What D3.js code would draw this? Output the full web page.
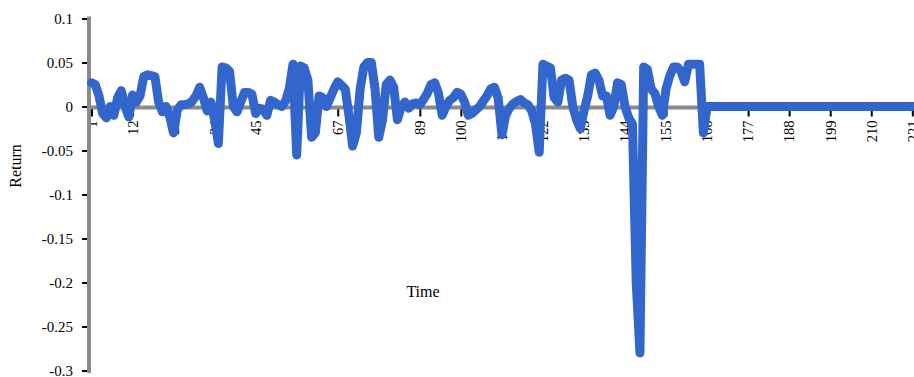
<!DOCTYPE html>
<html>
<head>
<meta charset="utf-8">
<script src="https://cdn.jsdelivr.net/npm/d3@7"></script>
<style>
  body { margin: 0; background: #fff; }
  svg { display: block; }
  svg text { font-family: 'Liberation Serif', 'DejaVu Serif', serif; fill: #000; }
</style>
</head>
<body>
<svg id="chart"></svg>
<script>
// return per time step (t = 1, 2, 3 ...)
const returns = [
  0.027, 0.025, 0.012, -0.008, -0.013, 0.0, -0.01, 0.01, 0.018, 0.0,
  -0.012, 0.013, 0.005, 0.012, 0.034, 0.036, 0.035, 0.034, 0.005, -0.006,
  0.0, -0.012, -0.03, -0.004, 0.002, 0.002, 0.003, 0.006, 0.012, 0.022,
  0.01, -0.005, 0.005, -0.015, -0.042, 0.045, 0.044, 0.04, 0.0, -0.006,
  0.005, 0.016, 0.016, 0.014, -0.008, -0.002, -0.003, -0.01, 0.007, 0.005,
  0.002, 0.0, 0.006, 0.02, 0.048, -0.055, 0.046, 0.044, 0.03, -0.035,
  -0.03, 0.012, 0.01, 0.0, 0.01, 0.02, 0.028, 0.024, 0.02, -0.01,
  -0.045, -0.03, 0.02, 0.045, 0.05, 0.05, 0.02, -0.035, -0.015, 0.025,
  0.03, 0.022, -0.015, 0.0, 0.005, -0.002, 0.003, 0.004, 0.002, 0.008,
  0.015, 0.025, 0.027, 0.015, -0.01, 0.0, 0.007, 0.01, 0.016, 0.014,
  0.005, -0.01, -0.008, -0.004, 0.0, 0.006, 0.012, 0.02, 0.022, 0.01,
  -0.032, -0.01, -0.002, 0.003, 0.006, 0.008, 0.004, 0.002, -0.005, -0.02,
  -0.052, 0.048, 0.046, 0.044, 0.01, 0.005, 0.03, 0.032, 0.03, 0.0,
  -0.015, -0.025, -0.005, 0.012, 0.036, 0.038, 0.03, 0.012, 0.012, -0.01,
  0.0, 0.027, 0.025, 0.0, -0.013, -0.02, -0.2, -0.28, 0.045, 0.042,
  0.02, 0.015, 0.0, -0.01, 0.02, 0.035, 0.045, 0.045, 0.04, 0.028,
  0.048, 0.048, 0.048, 0.048, -0.03, 0.0, 0.0, 0.0, 0.0, 0.0,
  0.0, 0.0, 0.0, 0.0, 0.0, 0.0, 0.0, 0.0, 0.0, 0.0,
  0.0, 0.0, 0.0, 0.0, 0.0, 0.0, 0.0, 0.0, 0.0, 0.0,
  0.0, 0.0, 0.0, 0.0, 0.0, 0.0, 0.0, 0.0, 0.0, 0.0,
  0.0, 0.0, 0.0, 0.0, 0.0, 0.0, 0.0, 0.0, 0.0, 0.0,
  0.0, 0.0, 0.0, 0.0, 0.0, 0.0, 0.0, 0.0, 0.0, 0.0,
  0.0, 0.0
];
const timeTicks = [1, 12, 23, 34, 45, 56, 67, 78, 89, 100, 111, 122, 133, 144, 155, 166, 177, 188, 199, 210, 221];
const returnTicks = [0.1, 0.05, 0, -0.05, -0.1, -0.15, -0.2, -0.25, -0.3];

const W = 914, H = 377;
const svg = d3.select('#chart').attr('width', W).attr('height', H);

const x = d3.scaleLinear().domain([1, 221]).range([91.5, 912.3]);
const y = d3.scaleLinear().domain([-0.3, 0.1]).range([370.5, 18.5]);
const axisX = 89;
const serif = "'Liberation Serif', 'DejaVu Serif', serif";

// y axis
const yAxis = d3.axisLeft(y).tickValues(returnTicks).tickSize(7).tickPadding(9)
    .tickFormat(d => String(+d.toFixed(2)));
const gy = svg.append('g').attr('transform', 'translate(' + axisX + ',0)').call(yAxis)
    .attr('font-family', serif).attr('font-size', 15);
gy.select('.domain').remove();
gy.selectAll('.tick line').attr('stroke', '#000').attr('stroke-width', 2);
gy.selectAll('.tick text').attr('fill', '#000').attr('dy', '0.33em');

// x axis (ticks sit below the zero line, labels turned)
const xAxis = d3.axisBottom(x).tickValues(timeTicks).tickSize(10).tickFormat(d => String(d));
const gx = svg.append('g').attr('transform', 'translate(0,' + y(0) + ')').call(xAxis)
    .attr('font-family', serif).attr('font-size', 14.5);
gx.select('.domain').remove();
gx.selectAll('.tick line').attr('stroke', '#000').attr('stroke-width', 2);
gx.selectAll('.tick text')
    .attr('transform', 'rotate(-90)')
    .attr('x', -(120.5 - y(0)))
    .attr('y', 0)
    .attr('dy', '0.33em')
    .attr('text-anchor', 'end')
    .attr('fill', '#000');

// axis lines
svg.append('line').attr('x1', axisX).attr('x2', W).attr('y1', y(0) + 1).attr('y2', y(0) + 1)
    .attr('stroke', '#8a8a8a').attr('stroke-width', 4);
svg.append('line').attr('x1', axisX).attr('x2', axisX).attr('y1', 16.5).attr('y2', 373)
    .attr('stroke', '#8a8a8a').attr('stroke-width', 4);

// series
const line = d3.line().x((d, i) => x(i + 1)).y(d => y(d));
svg.append('path').datum(returns)
    .attr('d', line)
    .attr('fill', 'none')
    .attr('stroke', '#3366cc')
    .attr('stroke-width', 9)
    .attr('stroke-linejoin', 'round')
    .attr('stroke-linecap', 'round');

// titles
svg.append('text').attr('transform', 'translate(21,166) rotate(-90)')
    .attr('text-anchor', 'middle').style('font-size', '16px').text('Return');
svg.append('text').attr('x', 423).attr('y', 297)
    .attr('text-anchor', 'middle').style('font-size', '16px').text('Time');
</script>
</body>
</html>
